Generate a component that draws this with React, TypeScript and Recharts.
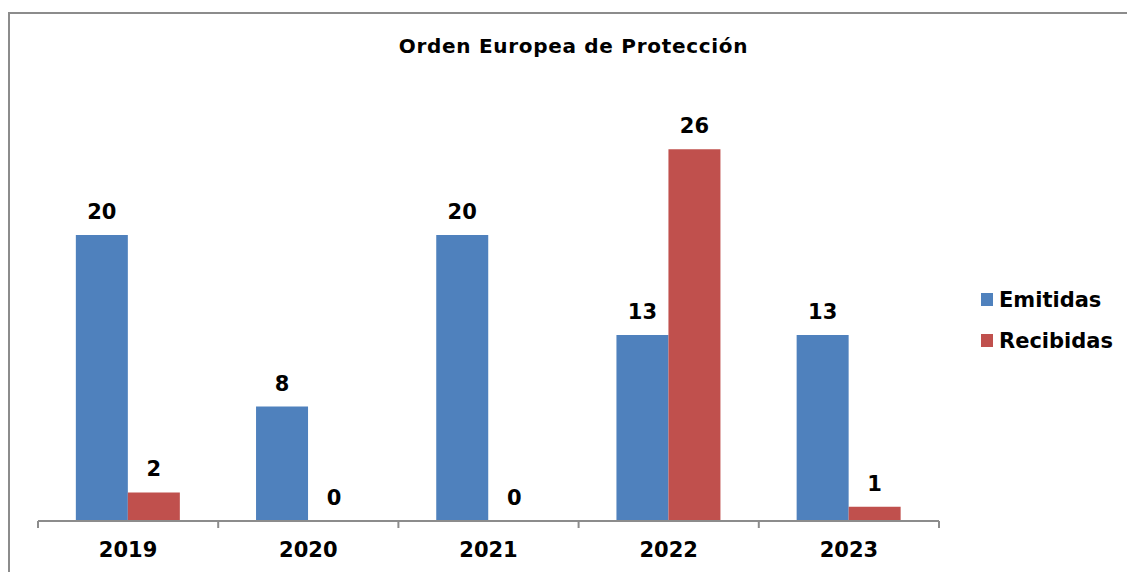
import { BarChart, Bar, XAxis, YAxis, LabelList, Cell } from "recharts";

const years = ["2019", "2020", "2021", "2022", "2023"];
const emitidas = [20, 8, 20, 13, 13];
const recibidas = [2, 0, 0, 26, 1];
const series = [
  { key: "Emitidas", color: "#4F81BD", values: emitidas },
  { key: "Recibidas", color: "#C0504D", values: recibidas },
];

const data = years.map((year, i) => ({
  year,
  Emitidas: emitidas[i],
  Recibidas: recibidas[i],
}));

const W = 1127;
const H = 572;
const M = { top: 92, right: 188, bottom: 0, left: 38 };
const band = (W - M.left - M.right) / years.length;
const FONT = "'DejaVu Sans', Verdana, sans-serif";

const YearTick = (props: any) => {
  const { x, y, payload, index } = props;
  const axisY = y - 8;
  return (
    <g>
      <line x1={x - band / 2} y1={axisY} x2={x - band / 2} y2={axisY + 7} stroke="#8c8c8c" strokeWidth={2} />
      {index === years.length - 1 && (
        <line x1={x + band / 2} y1={axisY} x2={x + band / 2} y2={axisY + 7} stroke="#8c8c8c" strokeWidth={2} />
      )}
      <text x={x} y={axisY + 36} textAnchor="middle" fontFamily={FONT} fontWeight="bold" fontSize={21} fill="#000">
        {payload.value}
      </text>
    </g>
  );
};

const ValueLabel = (props: any) => {
  const { x, y, width, height, value } = props;
  // zero bars get a 1px stub; anchor their label on the baseline
  const top = value === 0 ? y + height : y;
  return (
    <text x={x + width / 2} y={top - 16} textAnchor="middle" fontFamily={FONT} fontWeight="bold" fontSize={21} fill="#000">
      {value}
    </text>
  );
};

export default function App() {
  return (
    <div style={{ position: "absolute", left: 0, top: 0, width: W, height: H, overflow: "hidden", background: "#fff" }}>
      <div
        style={{
          position: "absolute",
          left: 8,
          top: 12,
          width: W,
          height: H,
          border: "2px solid #8c8c8c",
        }}
      />
      <div style={{ position: "absolute", left: 0, top: 0 }}>
        <BarChart width={W} height={H} data={data} margin={M} barCategoryGap="21%" barGap={0}>
          <XAxis
            dataKey="year"
            height={51}
            axisLine={{ stroke: "#8c8c8c", strokeWidth: 2 }}
            tickLine={false}
            tick={<YearTick />}
            interval={0}
          />
          <YAxis hide domain={[0, 30]} />
          {series.map((s) => (
            <Bar key={s.key} dataKey={s.key} fill={s.color} minPointSize={1} isAnimationActive={false}>
              {s.values.map((v, i) => (
                <Cell key={i} fill={v === 0 ? "transparent" : s.color} />
              ))}
              <LabelList dataKey={s.key} content={<ValueLabel />} />
            </Bar>
          ))}
        </BarChart>
      </div>
      <svg width={W} height={H} style={{ position: "absolute", left: 0, top: 0, pointerEvents: "none" }}>
        <text x={573.5} y={53} textAnchor="middle" fontFamily={FONT} fontWeight="bold" fontSize={20} letterSpacing={0.7} fill="#000">
          Orden Europea de Protección
        </text>
        {series.map((s, i) => (
          <g key={s.key}>
            <rect x={981} y={293 + i * 41} width={12} height={13} fill={s.color} />
            <text x={999} y={307 + i * 41} fontFamily={FONT} fontWeight="bold" fontSize={21} fill="#000">
              {s.key}
            </text>
          </g>
        ))}
      </svg>
    </div>
  );
}
